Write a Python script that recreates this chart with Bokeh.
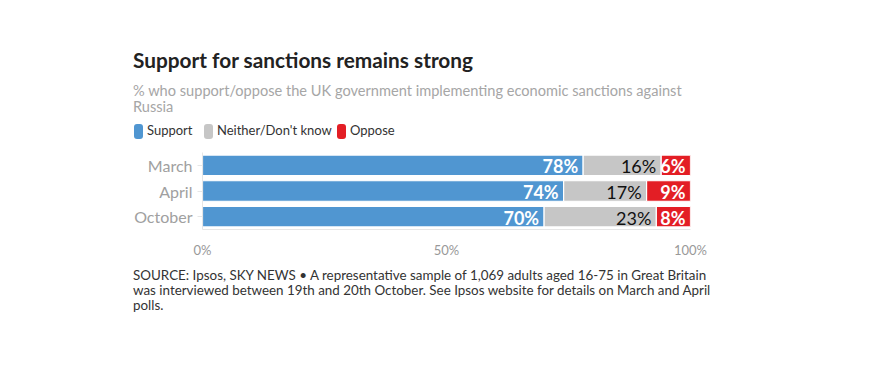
from bokeh.plotting import figure
from bokeh.layouts import column
from bokeh.models import ColumnDataSource, FixedTicker, FactorRange, Range1d, Div
from bokeh.core.properties import value
from bokeh.embed import file_html
from bokeh.resources import INLINE
from html import escape

months = ["March", "April", "October"]
support = [78, 74, 70]
neither = [16, 17, 23]
oppose = [6, 9, 8]
series = ["Support", "Neither/Don't know", "Oppose"]
colors = ["#5096d1", "#c6c6c6", "#e31e25"]
label_colors = ["white", "#111111", "white"]
x_ticks = [0, 50, 100]

title_text = "Support for sanctions remains strong"
subtitle_lines = ["% who support/oppose the UK government implementing economic sanctions against", "Russia"]
source_lines = [
    "SOURCE: Ipsos, SKY NEWS \u2022 A representative sample of 1,069 adults aged 16-75 in Great Britain",
    "was interviewed between 19th and 20th October. See Ipsos website for details on March and April",
    "polls.",
]

FONT = "Lato"
W = 870
HEAD_H, MAIN_H, FOOT_H = 145, 115, 90
FL, FR = 202, 690          # frame left/right (px)
FT, FB = 152, 235          # frame top/bottom on page (px)


def block(left, top, lines, size, color, weight=400, lh=15):
    inner = "<br>".join(escape(l) for l in lines)
    return (f'<div style="position:absolute;left:{left}px;top:{top}px;white-space:nowrap;'
            f'font-family:{FONT},sans-serif;font-size:{size}px;line-height:{lh}px;'
            f'color:{color};font-weight:{weight};">{inner}</div>')


# ---------- header ----------
sw_x = [134, 204, 337]
legend_html = ""
for i, name in enumerate(series):
    legend_html += (f'<div style="position:absolute;left:{sw_x[i]}px;top:124px;width:9px;height:15px;'
                    f'border-radius:3px;background:{colors[i]};"></div>')
    legend_html += block(sw_x[i] + 13, 123, [name], 13, "#333333")

head_html = (f'<div style="position:relative;width:{W}px;height:{HEAD_H}px;">'
             + block(133, 47, [title_text], 20.8, "#222222", weight=700, lh=26)
             + block(133, 82.5, subtitle_lines, 14.6, "#a6a6a6", lh=16)
             + legend_html + '</div>')
head = Div(text=head_html, width=W, height=HEAD_H, margin=0)

# ---------- main chart ----------
src = ColumnDataSource(dict(month=months, support=support, neither=neither, oppose=oppose))
p = figure(width=W, height=MAIN_H, output_backend="svg", toolbar_location=None,
           y_range=FactorRange(factors=list(reversed(months)), range_padding=0),
           x_range=Range1d(0, 100),
           min_border_left=FL, min_border_right=W - FR,
           min_border_top=FT - HEAD_H, min_border_bottom=HEAD_H + MAIN_H - FB)
p.outline_line_color = None
p.grid.visible = False
p.background_fill_color = "white"
p.border_fill_color = "white"

p.hbar_stack(["support", "neither", "oppose"], y="month", height=0.8, color=colors,
             line_color="white", line_width=1.2, source=src)

lab = {True: dict(x=[], y=[], t=[], c=[]), False: dict(x=[], y=[], t=[], c=[])}
for i, m in enumerate(months):
    vals = [support[i], neither[i], oppose[i]]
    cum = 0
    for j, v in enumerate(vals):
        cum += v
        d = lab[j != 1]
        d["x"].append(min(cum, 100))
        d["y"].append(m)
        d["t"].append(f"{v}%")
        d["c"].append(label_colors[j])
for bold, d in lab.items():
    p.text(x="x", y="y", text="t", text_color="c", source=ColumnDataSource(d),
           x_offset=-5, y_offset=1, text_align="right", text_baseline="middle",
           text_font=value(FONT), text_font_size="18px",
           text_font_style="bold" if bold else "normal")

p.xaxis.ticker = FixedTicker(ticks=x_ticks)
p.xaxis.major_label_overrides = {t: f"{t}%" for t in x_ticks}
p.xaxis.axis_line_color = "#e6e6e6"
p.xaxis.major_tick_line_color = None
p.xaxis.minor_tick_line_color = None
p.xaxis.major_label_text_color = "#999999"
p.xaxis.major_label_text_font = FONT
p.xaxis.major_label_text_font_size = "13px"
p.xaxis.major_label_standoff = 6

p.yaxis.axis_line_color = "#e6e6e6"
p.yaxis.major_tick_line_color = "#e6e6e6"
p.yaxis.major_tick_out = 5
p.yaxis.major_tick_in = 0
p.yaxis.major_label_text_color = "#a0a0a0"
p.yaxis.major_label_text_font = FONT
p.yaxis.major_label_text_font_size = "16px"
p.yaxis.major_label_standoff = 5

# ---------- footer ----------
foot_html = (f'<div style="position:relative;width:{W}px;height:{FOOT_H}px;">'
             + block(133, 275 - HEAD_H - MAIN_H - 7.5, source_lines, 13.4, "#333333")
             + '</div>')
foot = Div(text=foot_html, width=W, height=FOOT_H, margin=0)

layout = column(head, p, foot, spacing=0)
open("out.html", "w").write(file_html(layout, INLINE))
